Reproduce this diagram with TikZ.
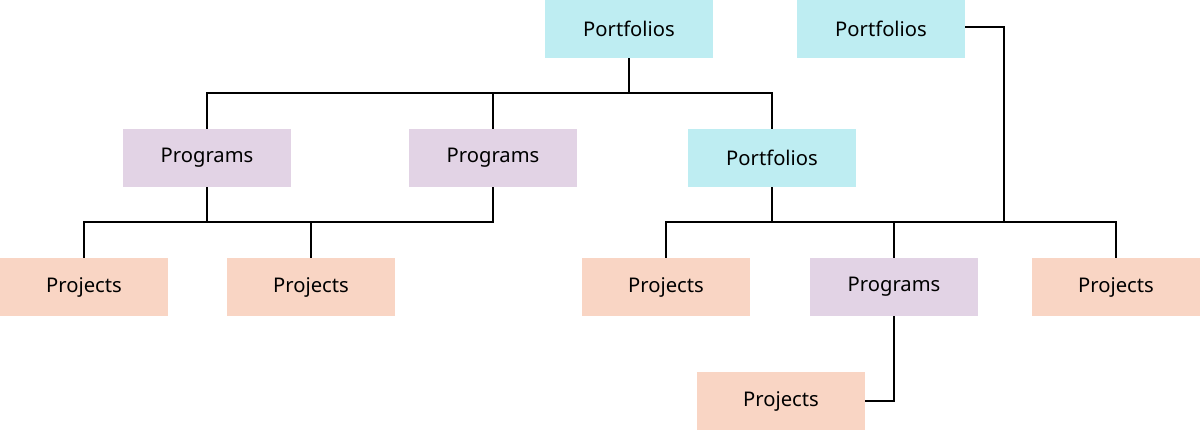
\documentclass[tikz,border=0pt]{standalone}
\usepackage{fontspec}
\setmainfont{Noto Sans}
\begin{document}
\begin{tikzpicture}[x=0.02cm,y=-0.02cm,
  box/.style={minimum width=168*0.02cm,minimum height=58*0.02cm,inner sep=0pt,font=\fontsize{11.5}{13}\selectfont},
  pf/.style={box,fill={rgb,255:red,190;green,237;blue,242}},
  pg/.style={box,fill={rgb,255:red,226;green,211;blue,229}},
  pj/.style={box,fill={rgb,255:red,249;green,213;blue,196}},
  ln/.style={draw=black,line width=0.8pt}]
\useasboundingbox (0,0) rectangle (1200,430);
\node[pf] (p1) at (629,29) {Portfolios};
\node[pf] (p2) at (881,29) {Portfolios};
\node[pg] (g1) at (207,158) {Programs};
\node[pg] (g2) at (493,158) {Programs};
\node[pf] (p3) at (772,158) {Portfolios};
\node[pj] (j1) at (84,287) {Projects};
\node[pj] (j2) at (311,287) {Projects};
\node[pj] (j3) at (666,287) {Projects};
\node[pg] (g3) at (894,287) {Programs};
\node[pj] (j4) at (1116,287) {Projects};
\node[pj] (j5) at (781,401) {Projects};
\coordinate (a) at (629,93);
\coordinate (b) at (493,222);
\coordinate (c) at (772,222);
\coordinate (d) at (1004,27);
\draw[ln] (p1.south) -- (a);
\draw[ln] (g1.north) |- (a) -| (p3.north);
\draw[ln] (a) -| (g2.north);
\draw[ln] (g1.south) -- (g1.south |- b);
\draw[ln] (g2.south) -- (b) -| (j1.north);
\draw[ln] (b) -| (j2.north);
\draw[ln] (p3.south) -- (c);
\draw[ln] (j3.north) |- (c) -| (j4.north);
\draw[ln] (c) -| (g3.north);
\draw[ln] (p2.east |- d) -- (d) -- (d |- c);
\draw[ln] (g3.south) |- (j5.east);
\end{tikzpicture}
\end{document}
